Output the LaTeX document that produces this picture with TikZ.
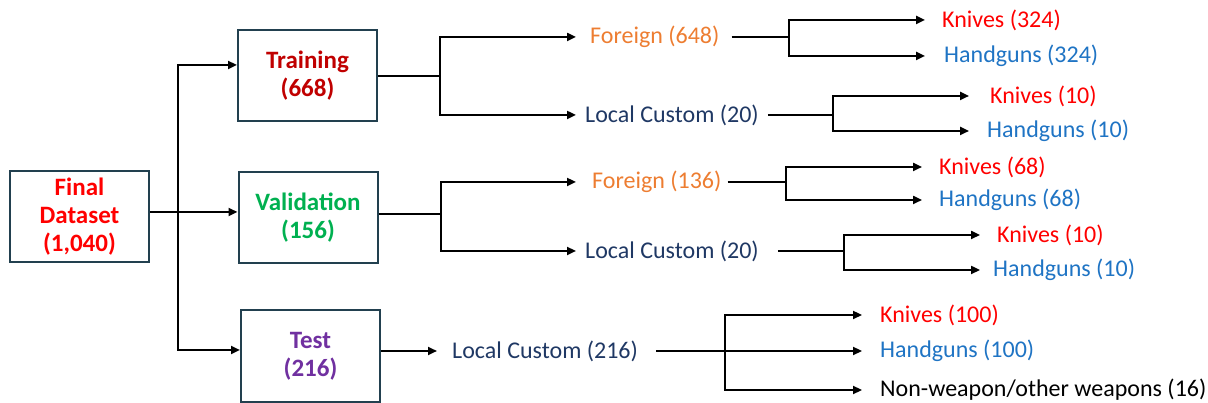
\documentclass[tikz,border=0pt]{standalone}
\usepackage{fontspec}
\setmainfont{Carlito}
\usetikzlibrary{arrows.meta,calc}
\definecolor{finalc}{HTML}{FF0000}
\definecolor{trainc}{HTML}{C00000}
\definecolor{validc}{HTML}{00B050}
\definecolor{testc}{HTML}{7030A0}
\definecolor{orangec}{HTML}{ED7D31}
\definecolor{navyc}{HTML}{1F3864}
\definecolor{bluec}{HTML}{1F74C4}
\definecolor{redc}{HTML}{FF0000}
\definecolor{boxc}{HTML}{22404F}
\begin{document}
\begin{tikzpicture}[x=1pt,y=-1pt,
  box/.style={draw=boxc,line width=2pt,minimum width=139pt,minimum height=91pt,align=center,inner sep=0pt,font=\bfseries\fontsize{25}{28}\selectfont},
  lab/.style={anchor=west,inner sep=0pt,font=\fontsize{24}{28}\selectfont},
  ln/.style={line width=2.3pt,black,line join=miter},
  arr/.style={ln,-{Triangle[length=9pt,width=8pt]}}]
\useasboundingbox (0,0) rectangle (1208,403);
% boxes
\node[box,text=finalc] (final) at (79.5,216.5) {Final\\Dataset\\(1,040)};
\node[box,text=trainc] (train) at (307.5,76) {Training\\(668)};
\node[box,text=validc] (valid) at (308,218) {Validation\\(156)};
\node[box,text=testc] (test) at (310.5,356) {Test\\(216)};
% labels
\node[lab,text=orangec] (f648) at (590,37) {Foreign (648)};
\node[lab,text=navyc] (lc20a) at (585,115) {Local Custom (20)};
\node[lab,text=redc] (k324) at (942,20) {Knives (324)};
\node[lab,text=bluec] (h324) at (944,56) {Handguns (324)};
\node[lab,text=redc] (k10a) at (990,96) {Knives (10)};
\node[lab,text=bluec] (h10a) at (987,131) {Handguns (10)};
\node[lab,text=orangec] (f136) at (592,182) {Foreign (136)};
\node[lab,text=navyc] (lc20b) at (585,251) {Local Custom (20)};
\node[lab,text=redc] (k68) at (939,167) {Knives (68)};
\node[lab,text=bluec] (h68) at (939,200) {Handguns (68)};
\node[lab,text=redc] (k10b) at (997,235) {Knives (10)};
\node[lab,text=bluec] (h10b) at (993,270) {Handguns (10)};
\node[lab,text=navyc] (lc216) at (452,351) {Local Custom (216)};
\node[lab,text=redc] (k100) at (880,315) {Knives (100)};
\node[lab,text=bluec] (h100) at (880,351) {Handguns (100)};
\node[lab,text=black] (nw) at (880,390) {Non-weapon/other weapons (16)};
% final -> splits
\coordinate (fk) at (178,212);
\draw[ln] (final.east |- fk) -- (fk);
\draw[arr] (fk) -- (valid.west |- fk);
\draw[arr] (fk) |- ($(train.west)+(0,-11)$);
\draw[arr] (fk) |- ($(test.west)+(0,-6)$);
% training
\coordinate (jt) at (440,76);
\draw[ln] (train.east |- jt) -- (jt);
\draw[arr] (jt) |- ([xshift=-14pt]f648.west);
\draw[arr] (jt) |- ([xshift=-9pt]lc20a.west);
% validation
\coordinate (jv) at (441,214);
\draw[ln] (valid.east |- jv) -- (jv);
\draw[arr] (jv) |- ([xshift=-16pt]f136.west);
\draw[arr] (jv) |- ([xshift=-9pt]lc20b.west);
% test
\draw[arr] (test.east |- lc216) -- ([xshift=-15pt]lc216.west);
% foreign 648
\coordinate (j1) at (789,0 |- f648);
\draw[ln] ([xshift=12pt]f648.east) -- (j1);
\draw[arr] (j1) |- ([xshift=-17pt]k324.west);
\draw[arr] (j1) |- ([xshift=-19pt]h324.west);
% local custom 20 (training)
\coordinate (j2) at (833,0 |- lc20a);
\draw[ln] ([xshift=9pt]lc20a.east) -- (j2);
\draw[arr] (j2) |- ([xshift=-21pt]k10a.west);
\draw[arr] (j2) |- ([xshift=-18pt]h10a.west);
% foreign 136
\coordinate (j3) at (786,0 |- f136);
\draw[ln] ([xshift=6pt]f136.east) -- (j3);
\draw[arr] (j3) |- ([xshift=-17pt]k68.west);
\draw[arr] (j3) |- ([xshift=-17pt]h68.west);
% local custom 20 (validation)
\coordinate (j4) at (844,0 |- lc20b);
\draw[ln] ([xshift=19pt]lc20b.east) -- (j4);
\draw[arr] (j4) |- ([xshift=-17pt]k10b.west);
\draw[arr] (j4) |- ([xshift=-13pt]h10b.west);
% local custom 216
\coordinate (j5) at (725,0 |- lc216);
\draw[ln] ([xshift=18pt]lc216.east) -- (j5);
\draw[arr] (j5) |- ([xshift=-18pt]k100.west);
\draw[arr] (j5) -- ([xshift=-18pt]h100.west);
\draw[arr] (j5) |- ([xshift=-18pt]nw.west);
\end{tikzpicture}
\end{document}
